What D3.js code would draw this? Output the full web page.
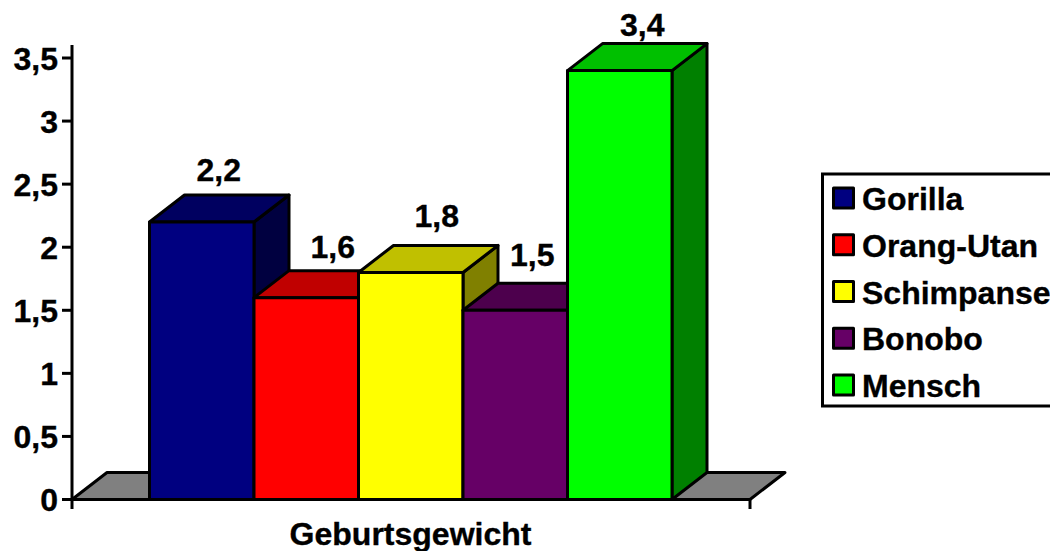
<!DOCTYPE html>
<html><head><meta charset="utf-8">
<script src="https://cdn.jsdelivr.net/npm/d3@7"></script>
<style>html,body{margin:0;background:#fff}svg{display:block}text{font-family:"Liberation Sans",Arial,sans-serif;font-weight:bold;font-size:32px;fill:#000;stroke:#000;stroke-width:.35px}</style>
</head><body><svg id="c" width="1050" height="551"></svg>
<script>
const categories=["Gorilla","Orang-Utan","Schimpanse","Bonobo","Mensch"];
const values=[2.2,1.6,1.8,1.5,3.4];
const valueLabels=["2,2","1,6","1,8","1,5","3,4"];
const frontColors=["#000080","#ff0000","#ffff00","#660066","#00ff00"];
const topColors=["#000060","#c00000","#c0c000","#4d004d","#00c000"];
const sideColors=["#000040","#800000","#808000","#330033","#008000"];
const yTicks=[0,0.5,1,1.5,2,2.5,3,3.5];
const yTickLabels=["0","0,5","1","1,5","2","2,5","3","3,5"];
const groupLabel="Geburtsgewicht";

const svg=d3.select("#c");
const y=d3.scaleLinear().domain([0,3.5]).range([499.5,58]);
const x=d3.scaleBand().domain(categories).range([149.5,672]);
const dx=35,dy=27,sw=3;
const axL=72,axR=750,axTop=45;
const labelShiftX=[0.5,10,9.5,0.5,6], labelShiftY=[1,2,-3.5,-2,7];
const poly=(pts)=>d3.line()(pts)+"Z";
const blk={stroke:"#000","stroke-width":sw,"stroke-linejoin":"round"};
const st=(s)=>{for(const k in blk)s.attr(k,blk[k]);return s;};

st(svg.append("path").attr("fill","#808080")
 .attr("d",poly([[axL,y(0)],[axL+dx,y(0)-dy],[axR+dx,y(0)-dy],[axR,y(0)]])));

const g=svg.selectAll("g.bar").data(categories).join("g").attr("class","bar");
g.each(function(c,i){
  const s=d3.select(this),x1=x(c)+x.bandwidth(),yt=y(values[i]),yb=y(0);
  st(s.append("path").attr("fill",sideColors[i]).attr("d",poly([[x1,yt],[x1+dx,yt-dy],[x1+dx,yb-dy],[x1,yb]])));
});
g.each(function(c,i){
  const s=d3.select(this),x0=x(c),x1=x0+x.bandwidth(),yt=y(values[i]),yb=y(0);
  st(s.append("path").attr("fill",topColors[i]).attr("d",poly([[x0,yt],[x0+dx,yt-dy],[x1+dx,yt-dy],[x1,yt]])));
  st(s.append("rect").attr("fill",frontColors[i]).attr("x",x0).attr("y",yt).attr("width",x.bandwidth()).attr("height",yb-yt));
});
svg.selectAll("text.val").data(categories).join("text").attr("class","val")
 .attr("x",(c,i)=>x(c)+x.bandwidth()/2+dx/2-1+labelShiftX[i])
 .attr("y",(c,i)=>y(values[i])-dy-15+labelShiftY[i])
 .attr("text-anchor","middle").text((c,i)=>valueLabels[i]);

const axis=svg.append("g").attr("stroke","#000").attr("stroke-width",sw);
axis.append("line").attr("x1",axL).attr("x2",axL).attr("y1",axTop).attr("y2",509);
axis.append("line").attr("x1",axL).attr("x2",axR).attr("y1",y(0)).attr("y2",y(0));
axis.append("line").attr("x1",axR).attr("x2",axR).attr("y1",y(0)).attr("y2",509);
axis.selectAll("line.t").data(yTicks).join("line").attr("class","t")
 .attr("x1",axL-10).attr("x2",axL).attr("y1",d=>y(d)).attr("y2",d=>y(d));
svg.selectAll("text.tick").data(yTicks).join("text").attr("class","tick")
 .attr("x",58).attr("y",d=>y(d)+11.5).attr("text-anchor","end").text((d,i)=>yTickLabels[i]);
svg.append("text").attr("x",410.5).attr("y",544.5).attr("text-anchor","middle").text(groupLabel);

const leg=svg.append("g");
leg.append("rect").attr("x",822.5).attr("y",174).attr("width",240).attr("height",232).attr("fill","#fff").attr("stroke","#000").attr("stroke-width",sw);
const rowY=d3.scalePoint().domain(categories).range([198,385]);
categories.forEach((c,i)=>{
  st(leg.append("rect").attr("x",833.5).attr("y",rowY(c)-10).attr("width",20).attr("height",20).attr("fill",frontColors[i]));
  leg.append("text").attr("x",862).attr("y",rowY(c)+12).text(c);
});
</script></body></html>
